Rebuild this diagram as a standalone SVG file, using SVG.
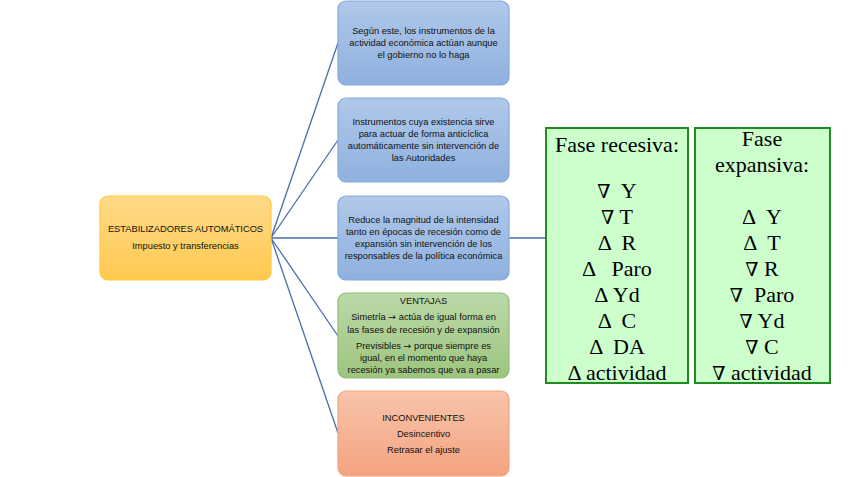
<svg xmlns="http://www.w3.org/2000/svg" width="848" height="477" viewBox="0 0 848 477">
<defs>
<linearGradient id="gBlue" x1="0" y1="0" x2="0" y2="1"><stop offset="0" stop-color="#B0C8EA"/><stop offset="1" stop-color="#8FB1DF"/></linearGradient>
<linearGradient id="gGreen" x1="0" y1="0" x2="0" y2="1"><stop offset="0" stop-color="#BCD9A8"/><stop offset="1" stop-color="#9CC57F"/></linearGradient>
<linearGradient id="gOrange" x1="0" y1="0" x2="0" y2="1"><stop offset="0" stop-color="#F8C4AA"/><stop offset="1" stop-color="#F4A381"/></linearGradient>
<linearGradient id="gMain" x1="0" y1="0" x2="0" y2="1"><stop offset="0" stop-color="#FFDA88"/><stop offset="1" stop-color="#FFC94F"/></linearGradient>
</defs>
<style>
.box{stroke-width:1.2}
.blue{fill:url(#gBlue);stroke:#86A8D8}
.green{fill:url(#gGreen);stroke:#93BD76}
.orange{fill:url(#gOrange);stroke:#F2A47F}
.main{fill:url(#gMain);stroke:#FFC83D}
.t{font-family:"Liberation Sans",Arial,sans-serif;font-size:9.3px;fill:#111;text-anchor:middle}
.ar{font-family:"DejaVu Sans",sans-serif}
.tbl{fill:#CCFFCC;stroke:#1E8C1E;stroke-width:2}
.s{font-family:"Liberation Serif","Times New Roman",serif;font-size:22px;fill:#000;text-anchor:middle}
.n{font-family:"DejaVu Serif",serif;font-size:19px}
.c{stroke:#4A6DAA;stroke-width:1.3;fill:none}
</style>
<rect width="848" height="477" fill="#fff"/>
<g id="connectors">
<line class="c" x1="271" y1="238" x2="338" y2="43"/>
<line class="c" x1="271" y1="238" x2="338" y2="140"/>
<line class="c" x1="271" y1="238" x2="338" y2="238"/>
<line class="c" x1="271" y1="238" x2="338" y2="336"/>
<line class="c" x1="271" y1="238" x2="338" y2="433"/>
<line class="c" x1="509" y1="238" x2="545" y2="238"/>
</g>
<g id="main">
<rect class="box main" x="100" y="196" width="171" height="84" rx="8"/>
<text class="t" x="185.5" y="232">ESTABILIZADORES AUTOMÁTICOS</text>
<text class="t" x="185.5" y="249">Impuesto y transferencias</text>
</g>
<g id="n1">
<rect class="box blue" x="338" y="1" width="171" height="84" rx="8"/>
<text class="t" x="423.5" y="34">Según este, los instrumentos de la</text>
<text class="t" x="423.5" y="46">actividad económica actúan aunque</text>
<text class="t" x="423.5" y="58">el gobierno no lo haga</text>
</g>
<g id="n2">
<rect class="box blue" x="338" y="98" width="171" height="84" rx="8"/>
<text class="t" x="423.5" y="125">Instrumentos cuya existencia sirve</text>
<text class="t" x="423.5" y="137">para actuar de forma anticíclica</text>
<text class="t" x="423.5" y="149">automáticamente sin intervención de</text>
<text class="t" x="423.5" y="161">las Autoridades</text>
</g>
<g id="n3">
<rect class="box blue" x="338" y="196" width="171" height="84" rx="8"/>
<text class="t" x="423.5" y="223">Reduce la magnitud de la intensidad</text>
<text class="t" x="423.5" y="235">tanto en épocas de recesión como de</text>
<text class="t" x="423.5" y="247">expansión sin intervención de los</text>
<text class="t" x="423.5" y="259">responsables de la política económica</text>
</g>
<g id="n4">
<rect class="box green" x="338" y="293" width="171" height="85" rx="8"/>
<text class="t" x="423.5" y="304">VENTAJAS</text>
<text class="t" x="423.5" y="320">Simetría <tspan class="ar">→</tspan> actúa de igual forma en</text>
<text class="t" x="423.5" y="333">las fases de recesión y de expansión</text>
<text class="t" x="423.5" y="349">Previsibles <tspan class="ar">→</tspan> porque siempre es</text>
<text class="t" x="423.5" y="361">igual, en el momento que haya</text>
<text class="t" x="423.5" y="373">recesión ya sabemos que va a pasar</text>
</g>
<g id="n5">
<rect class="box orange" x="338" y="391" width="171" height="85" rx="8"/>
<text class="t" x="423.5" y="421">INCONVENIENTES</text>
<text class="t" x="423.5" y="437">Desincentivo</text>
<text class="t" x="423.5" y="453">Retrasar el ajuste</text>
</g>
<g id="recesiva">
<rect class="tbl" x="546" y="128" width="142" height="255"/>
<text class="s" x="617" y="152">Fase recesiva:</text>
<text class="s" x="617" y="198" xml:space="preserve"><tspan class="n">∇</tspan>  Y</text>
<text class="s" x="617" y="224"><tspan class="n">∇</tspan> T</text>
<text class="s" x="617" y="250" xml:space="preserve">Δ  R</text>
<text class="s" x="617" y="276" xml:space="preserve">Δ   Paro</text>
<text class="s" x="617" y="302">Δ Yd</text>
<text class="s" x="617" y="328" xml:space="preserve">Δ  C</text>
<text class="s" x="617" y="354" xml:space="preserve">Δ  DA</text>
<text class="s" x="617" y="380">Δ actividad</text>
</g>
<g id="expansiva">
<rect class="tbl" x="695" y="128" width="135" height="255"/>
<text class="s" x="762" y="146">Fase</text>
<text class="s" x="762" y="172">expansiva:</text>
<text class="s" x="762" y="224" xml:space="preserve">Δ  Y</text>
<text class="s" x="762" y="250" xml:space="preserve">Δ  T</text>
<text class="s" x="762" y="276"><tspan class="n">∇</tspan> R</text>
<text class="s" x="762" y="302" xml:space="preserve"><tspan class="n">∇</tspan>  Paro</text>
<text class="s" x="762" y="328"><tspan class="n">∇</tspan> Yd</text>
<text class="s" x="762" y="354"><tspan class="n">∇</tspan> C</text>
<text class="s" x="762" y="380"><tspan class="n">∇</tspan> actividad</text>
</g>
</svg>
